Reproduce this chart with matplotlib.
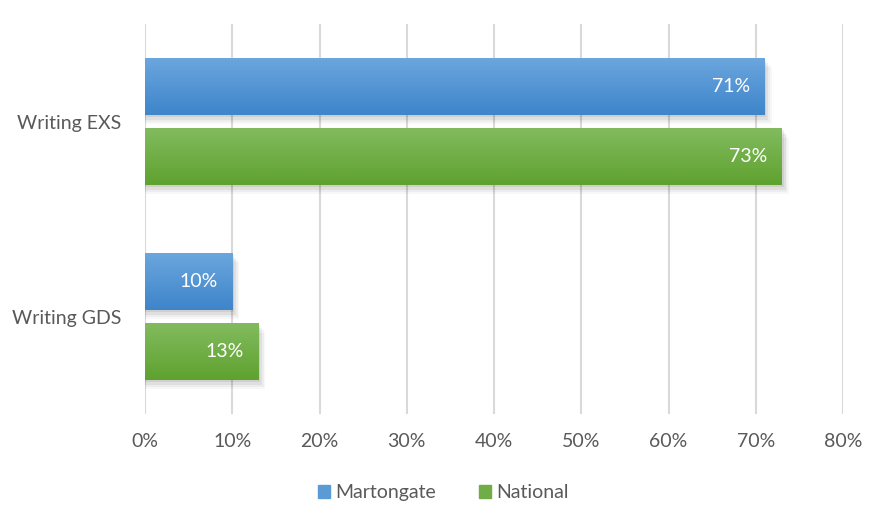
import numpy as np
import matplotlib.pyplot as plt
from matplotlib.patches import Rectangle
from matplotlib.ticker import FuncFormatter

plt.rcParams['font.family'] = ['Lato', 'DejaVu Sans']

categories = ['Writing EXS', 'Writing GDS']
martongate = [71, 10]
national = [73, 13]
series_names = ['Martongate', 'National']

# gradient colours (top, bottom) and flat legend colours
grad = {'Martongate': ('#6ba6de', '#3e85ca'), 'National': ('#82bb5e', '#5fa22f')}
flat = {'Martongate': '#5b9bd5', 'National': '#70ad47'}

fig = plt.figure(figsize=(8.87, 5.27), dpi=100)
ax = fig.add_axes([0.1635, 0.2144, 0.787, 0.740])

ypos = np.arange(len(categories))
h = 0.292
off = 0.18


def grad_bar(y, w, name):
    top, bot = grad[name]
    # soft shadow
    for k, a in enumerate([0.07, 0.055, 0.04, 0.03]):
        d = 0.012 * (k + 1)
        ax.add_patch(Rectangle((0, y - h / 2 + d), w + 0.2 * (k + 1), h, color='black',
                               alpha=a, lw=0, zorder=2))
    rect = Rectangle((0, y - h / 2), w, h, facecolor='none', lw=0, zorder=3)
    ax.add_patch(rect)
    c1 = np.array(plt.matplotlib.colors.to_rgb(top))
    c2 = np.array(plt.matplotlib.colors.to_rgb(bot))
    t = np.linspace(0, 1, 64)[:, None]
    img = (c1 * (1 - t) + c2 * t)[:, None, :]
    im = ax.imshow(img, extent=[0, w, y + h / 2, y - h / 2], aspect='auto', zorder=3,
                   interpolation='bilinear')
    im.set_clip_path(rect)
    ax.text(w - 1.7, y, f'{w}%', color='white', ha='right', va='center',
            fontsize=14, zorder=5)


for i in range(len(categories)):
    grad_bar(ypos[i] - off, martongate[i], 'Martongate')
    grad_bar(ypos[i] + off, national[i], 'National')

ax.set_xlim(0, 80)
ax.set_ylim(1.5, -0.5)
ax.set_xticks(range(0, 81, 10))
ax.xaxis.set_major_formatter(FuncFormatter(lambda v, p: f'{int(v)}%'))
ax.set_yticks(ypos)
ax.set_yticklabels(categories)
ax.grid(axis='x', color='#d9d9d9', lw=1.5, zorder=0)
ax.set_axisbelow(True)
for s in ax.spines.values():
    s.set_visible(False)
ax.tick_params(length=0, labelsize=14, colors='#595959')
ax.tick_params(axis='x', pad=14)
ax.tick_params(axis='y', pad=17)

handles = [Rectangle((0, 0), 1, 1, color=flat[n]) for n in series_names]
fig.legend(handles, series_names, loc='center', bbox_to_anchor=(0.5, 0.065), ncol=2,
           frameon=False, fontsize=14, labelcolor='#595959', handlelength=0.6,
           handleheight=0.6, handletextpad=0.3, columnspacing=2.2)

fig.savefig('out.png', dpi=100)
